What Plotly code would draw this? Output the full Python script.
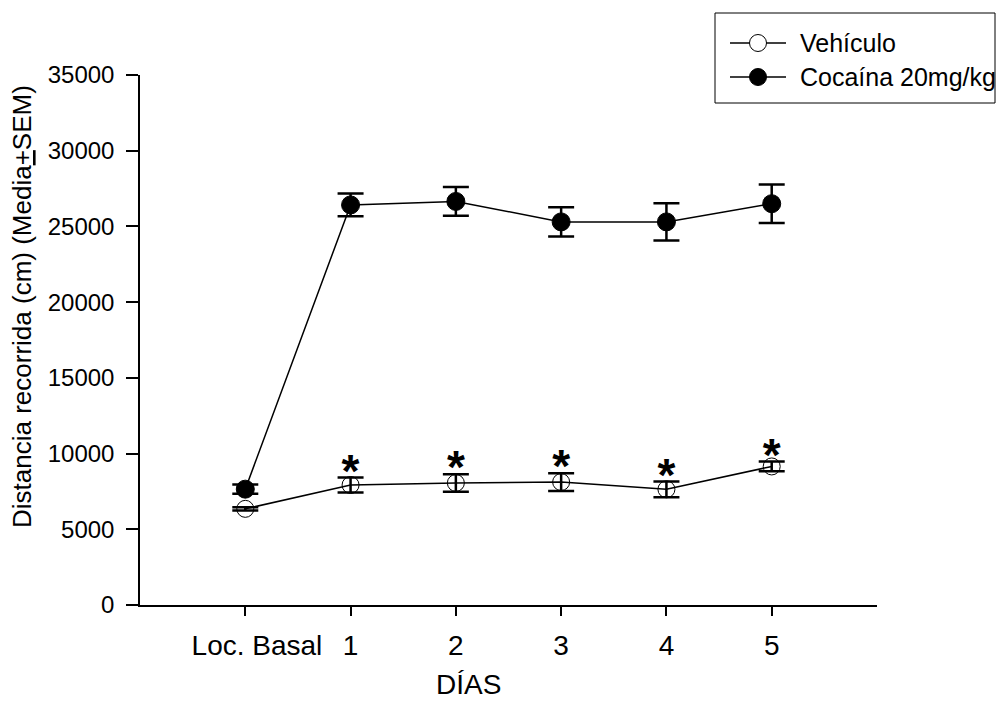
import plotly.graph_objects as go

days = ["Loc. Basal", "1", "2", "3", "4", "5"]
vehiculo = [6350, 7925, 8060, 8120, 7640, 9150]
vehiculo_sem = [110, 500, 575, 585, 520, 320]
cocaina = [7650, 26420, 26650, 25300, 25300, 26500]
cocaina_sem = [310, 750, 950, 970, 1230, 1270]
y_ticks = [0, 5000, 10000, 15000, 20000, 25000, 30000, 35000]
series_names = ["Vehículo", "Cocaína 20mg/kg"]
sig_offset = 150  # asterisk position above upper error bar (data units)

FONT = "Liberation Sans, Arial, sans-serif"
W, H = 999, 702
ML, MR, MT, MB = 140, 122, 75, 97
PW, PH = W - ML - MR, H - MT - MB


def px(x):  # pixel -> paper x
    return (x - ML) / PW


def py(y):  # pixel -> paper y
    return (H - MB - y) / PH


tick_text = ["\u00a0\u00a0\u00a0Loc. Basal"] + days[1:]

fig = go.Figure()
fig.add_trace(go.Scatter(
    x=days, y=cocaina, name=series_names[1], mode="lines+markers",
    line=dict(color="black", width=1.5),
    marker=dict(symbol="circle", size=18, color="black", line=dict(color="black", width=1)),
    error_y=dict(type="data", array=cocaina_sem, visible=True, color="black", thickness=2.5, width=13),
    showlegend=False,
))
fig.add_trace(go.Scatter(
    x=days, y=vehiculo, name=series_names[0], mode="lines+markers",
    line=dict(color="black", width=1.5),
    marker=dict(symbol="circle-open", size=17, color="black", line=dict(color="black", width=1)),
    error_y=dict(type="data", array=vehiculo_sem, visible=True, color="black", thickness=2.5, width=13),
    showlegend=False,
))
sig_x = days[1:]
sig_y = [v + s + sig_offset for v, s in zip(vehiculo[1:], vehiculo_sem[1:])]
fig.add_trace(go.Scatter(
    x=sig_x, y=sig_y, mode="text", text=["<b>*</b>"] * len(sig_x),
    textposition="middle center", textfont=dict(family=FONT, size=46, color="black"),
    showlegend=False, hoverinfo="skip", cliponaxis=False,
))

# --- legend box (drawn manually to match the long symbol lines) ---
shapes = [dict(type="rect", xref="paper", yref="paper",
               x0=px(715), x1=px(995), y0=py(13), y1=py(103),
               line=dict(color="black", width=1), fillcolor="white", layer="above")]
annotations = []
leg_rows = [43, 77]
for i, (name, ypix) in enumerate(zip(series_names, leg_rows)):
    shapes.append(dict(type="line", xref="paper", yref="paper",
                       x0=px(730), x1=px(786), y0=py(ypix), y1=py(ypix),
                       line=dict(color="black", width=1.5), layer="above"))
    shapes.append(dict(type="circle", xref="paper", yref="paper",
                       xsizemode="pixel", ysizemode="pixel",
                       xanchor=px(758), yanchor=py(ypix),
                       x0=-8.5, x1=8.5, y0=-8.5, y1=8.5,
                       fillcolor="white" if i == 0 else "black",
                       line=dict(color="black", width=1), layer="above"))
    annotations.append(dict(text=name, xref="paper", yref="paper",
                            x=px(798), y=py(ypix), xanchor="left", yanchor="middle",
                            showarrow=False, font=dict(family=FONT, size=25, color="black")))

# --- axis titles ---
annotations.append(dict(text="DÍAS", xref="paper", yref="paper",
                        x=px(468), y=py(701), xanchor="center", yanchor="bottom",
                        borderpad=0,
                        showarrow=False, font=dict(family=FONT, size=28, color="black")))
annotations.append(dict(text="Distancia recorrida (cm) (Media<u>+</u>SEM)",
                        xref="paper", yref="paper", textangle=-90,
                        x=px(22), y=py(307), xanchor="center", yanchor="middle",
                        showarrow=False, font=dict(family=FONT, size=26, color="black")))

fig.update_layout(
    width=W, height=H,
    margin=dict(l=ML, r=MR, t=MT, b=MB),
    paper_bgcolor="white", plot_bgcolor="white",
    font=dict(family=FONT, color="black"),
    showlegend=False,
    shapes=shapes, annotations=annotations,
    xaxis=dict(
        type="category", range=[-1, 6],
        tickvals=days, ticktext=tick_text,
        showline=True, linecolor="black", linewidth=1.5,
        ticks="outside", ticklen=9, tickwidth=1.5, tickcolor="black",
        tickfont=dict(family=FONT, size=28, color="black"),
        ticklabelstandoff=6,
        showgrid=False, zeroline=False,
    ),
    yaxis=dict(
        range=[0, 35000], tickvals=y_ticks, ticktext=[str(v) for v in y_ticks],
        showline=True, linecolor="black", linewidth=1.5,
        ticks="outside", ticklen=12, tickwidth=1.5, tickcolor="black",
        tickfont=dict(family=FONT, size=24, color="black"),
        ticklabelstandoff=7,
        showgrid=False, zeroline=False,
    ),
)

fig.write_html("out.html")
